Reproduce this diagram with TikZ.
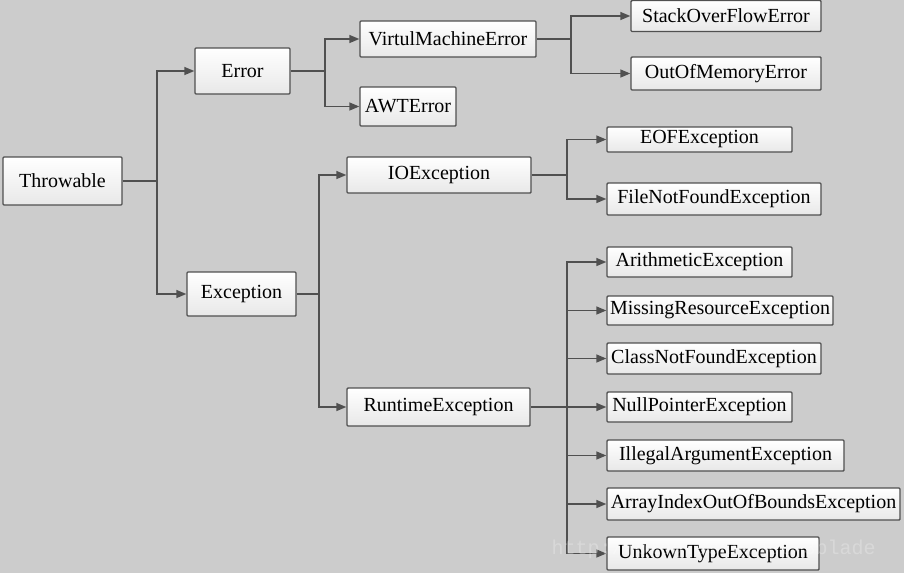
\documentclass[tikz,border=0pt]{standalone}
\usepackage{fontspec}
\setmainfont{Liberation Serif}
\newfontfamily\wmfont{Liberation Mono}
\usetikzlibrary{arrows.meta}
\definecolor{bg}{RGB}{204,204,204}
\definecolor{edge}{RGB}{80,80,80}
\definecolor{boxbot}{RGB}{232,232,232}
\begin{document}
\begin{tikzpicture}[x=1pt,y=-1pt,
  cls/.style={draw=edge, line width=1.4pt, rounded corners=1pt,
    top color=white, bottom color=boxbot, text=black,
    font=\fontsize{20}{22}\selectfont, inner sep=0pt, anchor=center},
  conn/.style={draw=edge, line width=1.5pt},
  arr/.style={conn, -{Triangle[length=10pt,width=8pt]}}]
\fill[bg] (0,0) rectangle (904,573);
\useasboundingbox (0,0) rectangle (904,573);

% nodes
\node[cls, minimum width=119pt, minimum height=48pt] (throw) at (62.5,181) {Throwable};
\node[cls, minimum width=95pt, minimum height=46pt] (err) at (242.5,71) {Error};
\node[cls, minimum width=109pt, minimum height=44pt] (exc) at (241.5,294) {Exception};
\node[cls, minimum width=176pt, minimum height=36pt] (vme) at (448,39) {VirtulMachineError};
\node[cls, minimum width=96pt, minimum height=39pt] (awt) at (408,106.5) {AWTError};
\node[cls, minimum width=184pt, minimum height=36pt] (ioe) at (439,175) {IOException};
\node[cls, minimum width=183pt, minimum height=38pt] (rte) at (438.5,407) {RuntimeException};
\node[cls, minimum width=190pt, minimum height=31pt] (sof) at (726,16) {StackOverFlowError};
\node[cls, minimum width=190pt, minimum height=33pt] (oom) at (726,73.5) {OutOfMemoryError};
\node[cls, minimum width=185pt, minimum height=25pt] (eof) at (699.5,139.5) {EOFException};
\node[cls, minimum width=214pt, minimum height=32pt] (fnf) at (714,199) {FileNotFoundException};
\node[cls, minimum width=185pt, minimum height=30pt] (ari) at (699.5,262) {ArithmeticException};
\node[cls, minimum width=226pt, minimum height=29pt] (mre) at (720,310.5) {MissingResourceException};
\node[cls, minimum width=214pt, minimum height=31pt] (cnf) at (714,358.5) {ClassNotFoundException};
\node[cls, minimum width=185pt, minimum height=30pt] (npe) at (699.5,407) {NullPointerException};
\node[cls, minimum width=237pt, minimum height=31pt] (iae) at (725.5,455.5) {IllegalArgumentException};
\node[cls, minimum width=293pt, minimum height=32pt] (aio) at (753.5,504) {ArrayIndexOutOfBoundsException};
\node[cls, minimum width=212pt, minimum height=33pt] (ute) at (713,553.5) {UnkownTypeException};

% trunk coordinates
\coordinate (tT) at (157,181);
\coordinate (tE) at (325,71);
\coordinate (tV) at (571,39);
\coordinate (tX) at (319,294);
\coordinate (tI) at (567,175);
\coordinate (tR) at (567,407);

% connectors
\draw[conn] (throw.east) -- (tT);
\draw[arr] (tT) |- (err.west);
\draw[arr] (tT) |- (exc.west);

\draw[conn] (err.east) -- (tE);
\draw[arr] (tE) |- (vme.west);
\draw[arr] (tE) |- (awt.west);

\draw[conn] (vme.east) -- (tV);
\draw[arr] (tV) |- (sof.west);
\draw[arr] (tV) |- (oom.west);

\draw[conn] (exc.east) -- (tX);
\draw[arr] (tX) |- (ioe.west);
\draw[arr] (tX) |- (rte.west);

\draw[conn] (ioe.east) -- (tI);
\draw[arr] (tI) |- (eof.west);
\draw[arr] (tI) |- (fnf.west);

\draw[conn] (rte.east) -- (tR);
\draw[arr] (tR) |- (ari.west);
\draw[arr] (tR) |- (mre.west);
\draw[arr] (tR) |- (cnf.west);
\draw[arr] (tR) |- (npe.west);
\draw[arr] (tR) |- (iae.west);
\draw[arr] (tR) |- (aio.west);
\draw[arr] (tR) |- (ute.west);

% watermark
\node[text=white, opacity=0.25, font=\wmfont\fontsize{20}{22}\selectfont, anchor=west] (wm) at (548,549) {http://blog.csdn.net/3blade};
\end{tikzpicture}
\end{document}
